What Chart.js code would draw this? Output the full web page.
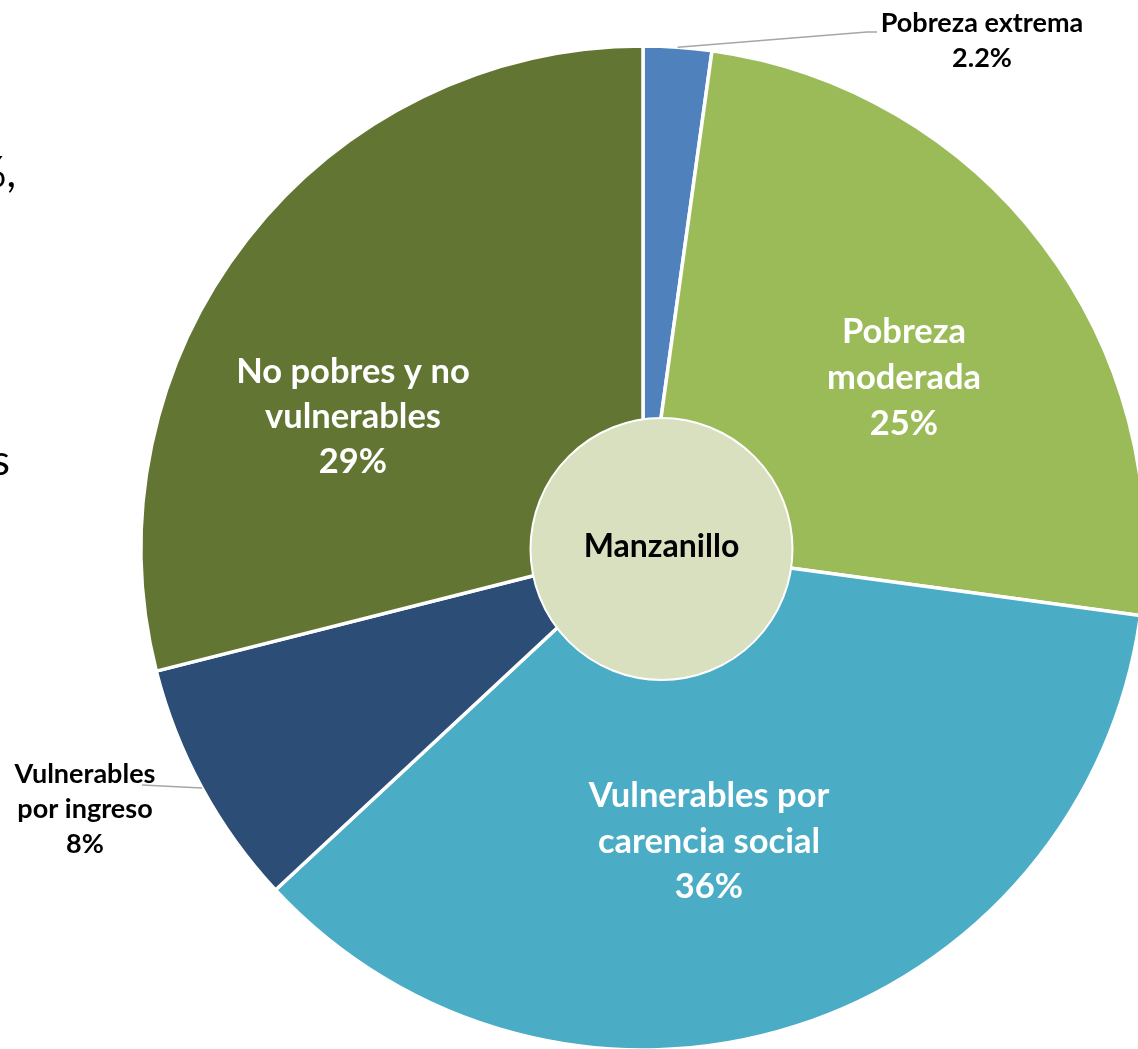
<!DOCTYPE html>
<html>
<head>
<meta charset="utf-8">
<script src="https://cdn.jsdelivr.net/npm/chart.js@4.4.1/dist/chart.umd.min.js"></script>
<style>
  html, body { margin: 0; padding: 0; background: #ffffff; overflow: hidden; }
  #wrap { position: relative; width: 1138px; height: 1049px; }
  canvas { display: block; }
</style>
</head>
<body>
<div id="wrap"><canvas id="chart" width="1138" height="1049"></canvas></div>
<script>
// Población de Manzanillo por condición de pobreza y vulnerabilidad (%)
const categories = [
  'Pobreza extrema',
  'Pobreza moderada',
  'Vulnerables por carencia social',
  'Vulnerables por ingreso',
  'No pobres y no vulnerables'
];
const shares = [2.2, 25, 36, 8, 29];
const valueLabels = ['2.2%', '25%', '36%', '8%', '29%'];
const labelLines = [
  ['Pobreza extrema'],
  ['Pobreza', 'moderada'],
  ['Vulnerables por', 'carencia social'],
  ['Vulnerables', 'por ingreso'],
  ['No pobres y no', 'vulnerables']
];
const centerTitle = 'Manzanillo';

// Styling
const sliceColors = ['#4F81BD', '#9BBB59', '#4BACC6', '#2C4D75', '#627532'];
const hubColor = '#D8E0BF';
const FONT = 'Lato, "Open Sans", sans-serif';

// Label layout: anchor offset from the pie centre, line height, font size, colour
const labelStyle = [
  { dx: 339, dy: -516, lh: 35, size: 27, color: '#000000', outside: true,
    leader: [[224, -516], [234, -516]] },
  { dx: 261, dy: -205, lh: 46, size: 34.5, color: '#ffffff' },
  { dx: 66, dy: 259, lh: 45.5, size: 34.5, color: '#ffffff' },
  { dx: -558, dy: 235, lh: 35, size: 27, color: '#000000', outside: true,
    leader: [[-501, 237]] },
  { dx: -290, dy: -165, lh: 45, size: 34.5, color: '#ffffff' }
];

const labelPlugin = {
  id: 'sliceLabels',
  afterDatasetsDraw(chart) {
    const ctx = chart.ctx;
    const arcs = chart.getDatasetMeta(0).data;
    const cx = arcs[0].x, cy = arcs[0].y;

    // centre hub
    const hubX = cx + 18.5, hubY = cy + 1, hubR = 131;
    ctx.save();
    ctx.beginPath();
    ctx.arc(hubX, hubY, hubR, 0, Math.PI * 2);
    ctx.fillStyle = hubColor;
    ctx.fill();
    ctx.lineWidth = 2;
    ctx.strokeStyle = '#ffffff';
    ctx.stroke();
    ctx.fillStyle = '#000000';
    ctx.font = 'bold 32px ' + FONT;
    ctx.textAlign = 'center';
    ctx.textBaseline = 'alphabetic';
    ctx.fillText(centerTitle, hubX, cy + 9);
    ctx.restore();

    // slice labels
    arcs.forEach((arc, i) => {
      const st = labelStyle[i];
      const lines = labelLines[i].concat([valueLabels[i]]);
      ctx.save();
      if (st.outside) {
        const mid = (arc.startAngle + arc.endAngle) / 2;
        const px = cx + Math.cos(mid) * arc.outerRadius;
        const py = cy + Math.sin(mid) * arc.outerRadius;
        ctx.beginPath();
        ctx.moveTo(px, py);
        st.leader.forEach(p => ctx.lineTo(cx + p[0], cy + p[1]));
        ctx.strokeStyle = '#A6A6A6';
        ctx.lineWidth = 1.5;
        ctx.stroke();
      }
      ctx.fillStyle = st.color;
      ctx.font = 'bold ' + st.size + 'px ' + FONT;
      ctx.textAlign = 'center';
      ctx.textBaseline = 'alphabetic';
      lines.forEach((t, k) => ctx.fillText(t, cx + st.dx, cy + st.dy + k * st.lh));
      ctx.restore();
    });

    // neighbouring text running in from the left margin
    ctx.save();
    ctx.fillStyle = '#000000';
    ctx.font = '42px ' + FONT;
    ctx.textAlign = 'right';
    ctx.textBaseline = 'alphabetic';
    ctx.fillText('%,', 16, 187);
    ctx.fillText('s', 10, 475);
    ctx.restore();
  }
};

new Chart(document.getElementById('chart'), {
  type: 'pie',
  data: {
    labels: categories,
    datasets: [{
      data: shares,
      backgroundColor: sliceColors,
      borderColor: '#ffffff',
      borderWidth: 3.5,
      clip: false
    }]
  },
  options: {
    responsive: false,
    maintainAspectRatio: false,
    animation: false,
    devicePixelRatio: 1,
    radius: 502,
    rotation: 0,
    layout: { padding: { left: 148, right: 0, top: 47, bottom: 0 } },
    plugins: {
      legend: { display: false },
      tooltip: { enabled: false }
    }
  },
  plugins: [labelPlugin]
});
</script>
</body>
</html>
